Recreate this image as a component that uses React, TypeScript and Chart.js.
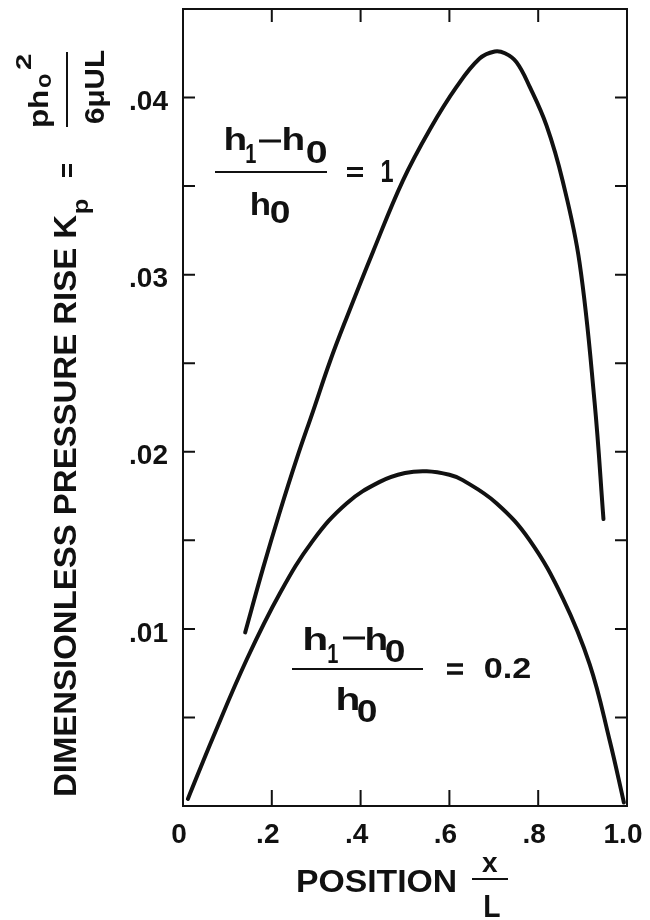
import React, { useEffect, useRef } from 'react';
import { Chart, registerables } from 'chart.js';

Chart.register(...registerables);

// ---- data ----
const upperX = [0.140, 0.180, 0.218, 0.256, 0.293, 0.331, 0.369, 0.428, 0.495, 0.556, 0.616, 0.668, 0.702, 0.725, 0.751, 0.781, 0.819, 0.855, 0.893, 0.927, 0.947];
const upperY = [0.0098, 0.0134, 0.0166, 0.0196, 0.0223, 0.0251, 0.0276, 0.0313, 0.0353, 0.0382, 0.0406, 0.0422, 0.0426, 0.0425, 0.0420, 0.0406, 0.0384, 0.0353, 0.0307, 0.0228, 0.0162];

const lowerX = [0.011, 0.068, 0.144, 0.218, 0.293, 0.369, 0.443, 0.500, 0.549, 0.600, 0.630, 0.706, 0.781, 0.856, 0.916, 0.961, 0.993];
const lowerY = [0.0004, 0.0039, 0.0083, 0.0120, 0.0150, 0.0171, 0.0183, 0.0188, 0.0189, 0.0187, 0.0184, 0.0171, 0.0150, 0.0117, 0.0080, 0.0037, 0.0002];

const xTickValues = [0, 0.2, 0.4, 0.6, 0.8, 1.0];
const xTickLabels = ['0', '.2', '.4', '.6', '.8', '1.0'];
const yTickValues = [0.01, 0.02, 0.03, 0.04];
const yTickLabels = ['.01', '.02', '.03', '.04'];

const INK = '#111111';
const FAMILY = '"Liberation Sans", Arial, sans-serif';
const fontStr = (size: number) => `bold ${size}px ${FAMILY}`;

function inkText(ctx: CanvasRenderingContext2D, s: string, left: number, right: number, baseline: number, size: number) {
  ctx.save();
  ctx.font = fontStr(size);
  ctx.textAlign = 'left';
  ctx.textBaseline = 'alphabetic';
  const m = ctx.measureText(s);
  const inkW = m.actualBoundingBoxLeft + m.actualBoundingBoxRight;
  const sx = inkW > 0 ? (right - left) / inkW : 1;
  ctx.translate(left + m.actualBoundingBoxLeft * sx, baseline);
  ctx.scale(sx, 1);
  ctx.fillText(s, 0, 0);
  ctx.restore();
}

function bar(ctx: CanvasRenderingContext2D, x1: number, x2: number, y: number, t: number) {
  ctx.fillRect(x1, y - t / 2, x2 - x1, t);
}

const noPad = (s: any) => {
  s.paddingTop = 0;
  s.paddingBottom = 0;
  s.paddingLeft = 0;
  s.paddingRight = 0;
};

const decor = {
  id: 'decor',
  afterDraw(chart: any) {
    const { ctx, chartArea: a, scales } = chart;
    const xs = scales.x;
    const ys = scales.y;
    ctx.save();
    ctx.strokeStyle = INK;
    ctx.fillStyle = INK;
    ctx.lineWidth = 2;
    ctx.strokeRect(a.left, a.top, a.right - a.left, a.bottom - a.top);
    ctx.beginPath();
    ys.ticks.forEach((t: any) => {
      if (t.value > 1e-9 && t.value < ys.max - 1e-9) {
        const p = ys.getPixelForValue(t.value);
        ctx.moveTo(a.left, p); ctx.lineTo(a.left + 12, p);
        ctx.moveTo(a.right, p); ctx.lineTo(a.right - 12, p);
      }
    });
    xs.ticks.forEach((t: any) => {
      if (t.value > 1e-9 && t.value < xs.max - 1e-9) {
        const p = xs.getPixelForValue(t.value);
        ctx.moveTo(p, a.bottom); ctx.lineTo(p, a.bottom - 16);
        ctx.moveTo(p, a.top); ctx.lineTo(p, a.top + 13);
      }
    });
    ctx.stroke();

    // ---- y axis title (rotated) ----
    ctx.save();
    ctx.translate(76, 795);
    ctx.rotate(-Math.PI / 2);
    inkText(ctx, 'DIMENSIONLESS PRESSURE RISE K', 0, 580, 0, 32);
    inkText(ctx, 'p', 582, 596, 12, 22);
    bar(ctx, 618, 631, -12.5, 3);
    bar(ctx, 618, 631, -5.5, 3);
    bar(ctx, 668, 743, -9, 2);
    inkText(ctx, 'ph', 668, 704, -28, 28);
    inkText(ctx, 'o', 707, 721, -25, 22);
    inkText(ctx, '2', 725, 741, -45, 22);
    inkText(ctx, '6\u03bcUL', 672, 745, 28, 28);
    ctx.restore();

    // ---- x axis title ----
    inkText(ctx, 'POSITION', 298, 455, 892, 32);
    bar(ctx, 472, 508, 879, 2);
    inkText(ctx, 'x', 482, 498, 872, 28);
    inkText(ctx, 'L', 485, 500, 917, 32);

    // ---- upper annotation: (h1-h0)/h0 = 1 ----
    inkText(ctx, 'h', 226, 246, 150, 31);
    inkText(ctx, '1', 246, 256, 163, 28);
    bar(ctx, 259, 281, 141, 3);
    inkText(ctx, 'h', 284, 304, 150, 31);
    inkText(ctx, '0', 307, 326, 163, 31);
    bar(ctx, 215, 327, 172, 2);
    inkText(ctx, 'h', 252, 270, 215, 31);
    inkText(ctx, '0', 271, 289, 223, 31);
    bar(ctx, 347, 363, 168.5, 3);
    bar(ctx, 347, 363, 175.5, 3);
    inkText(ctx, '1', 382, 393, 182, 32);

    // ---- lower annotation: (h1-h0)/h0 = 0.2 ----
    inkText(ctx, 'h', 305, 327, 650, 31);
    inkText(ctx, '1', 328, 338, 663, 28);
    bar(ctx, 343, 365, 638, 3);
    inkText(ctx, 'h', 367, 387, 650, 31);
    inkText(ctx, '0', 386, 404, 662, 31);
    bar(ctx, 292, 423, 669, 2);
    inkText(ctx, 'h', 338, 359, 710, 31);
    inkText(ctx, '0', 358, 376, 722, 31);
    bar(ctx, 447, 463, 665, 3.5);
    bar(ctx, 447, 463, 673, 3.5);
    inkText(ctx, '0.2', 485, 530, 678, 29);

    ctx.restore();
  },
};

export default function App() {
  const ref = useRef<HTMLCanvasElement | null>(null);
  useEffect(() => {
    if (!ref.current) return;
    const toPts = (xs: number[], ys: number[]) => xs.map((x, i) => ({ x, y: ys[i] }));
    const lineStyle = {
      showLine: true,
      pointRadius: 0,
      borderWidth: 4,
      borderColor: INK,
      backgroundColor: INK,
      tension: 0.4,
      borderCapStyle: 'round' as const,
      borderJoinStyle: 'round' as const,
      fill: false,
    };
    const tickFont = { family: FAMILY, size: 28, weight: 'bold' as const };
    const chart = new Chart(ref.current, {
      type: 'scatter',
      data: {
        datasets: [
          { label: 'ratio 1', data: toPts(upperX, upperY), ...lineStyle },
          { label: 'ratio 0.2', data: toPts(lowerX, lowerY), ...lineStyle },
        ],
      },
      options: {
        responsive: false,
        animation: false,
        layout: { autoPadding: false, padding: { top: 9, right: 23, left: 0, bottom: 0 } },
        plugins: { legend: { display: false }, tooltip: { enabled: false } },
        scales: {
          x: {
            type: 'linear',
            min: 0,
            max: 1,
            afterFit: (s: any) => { s.height = 114; noPad(s); },
            grid: { display: false, drawTicks: false },
            border: { display: false },
            ticks: {
              stepSize: 0.2,
              autoSkip: false,
              maxRotation: 0,
              padding: 12,
              labelOffset: -4,
              color: INK,
              font: tickFont,
              callback: (v: any) => {
                const i = xTickValues.findIndex((t) => Math.abs(t - Number(v)) < 1e-6);
                return i >= 0 ? xTickLabels[i] : '';
              },
            },
          },
          y: {
            type: 'linear',
            min: 0,
            max: 0.045,
            afterFit: (s: any) => { s.width = 183; noPad(s); },
            grid: { display: false, drawTicks: false },
            border: { display: false },
            ticks: {
              stepSize: 0.005,
              autoSkip: false,
              padding: 15,
              labelOffset: 5,
              color: INK,
              font: tickFont,
              callback: (v: any) => {
                const i = yTickValues.findIndex((t) => Math.abs(t - Number(v)) < 1e-7);
                return i >= 0 ? yTickLabels[i] : '';
              },
            },
          },
        },
      } as any,
      plugins: [decor],
    });
    return () => chart.destroy();
  }, []);
  return (
    <div style={{ position: 'absolute', left: 0, top: 0, width: 650, height: 920, background: '#fff' }}>
      <canvas ref={ref} width={650} height={920} style={{ display: 'block' }} />
    </div>
  );
}
